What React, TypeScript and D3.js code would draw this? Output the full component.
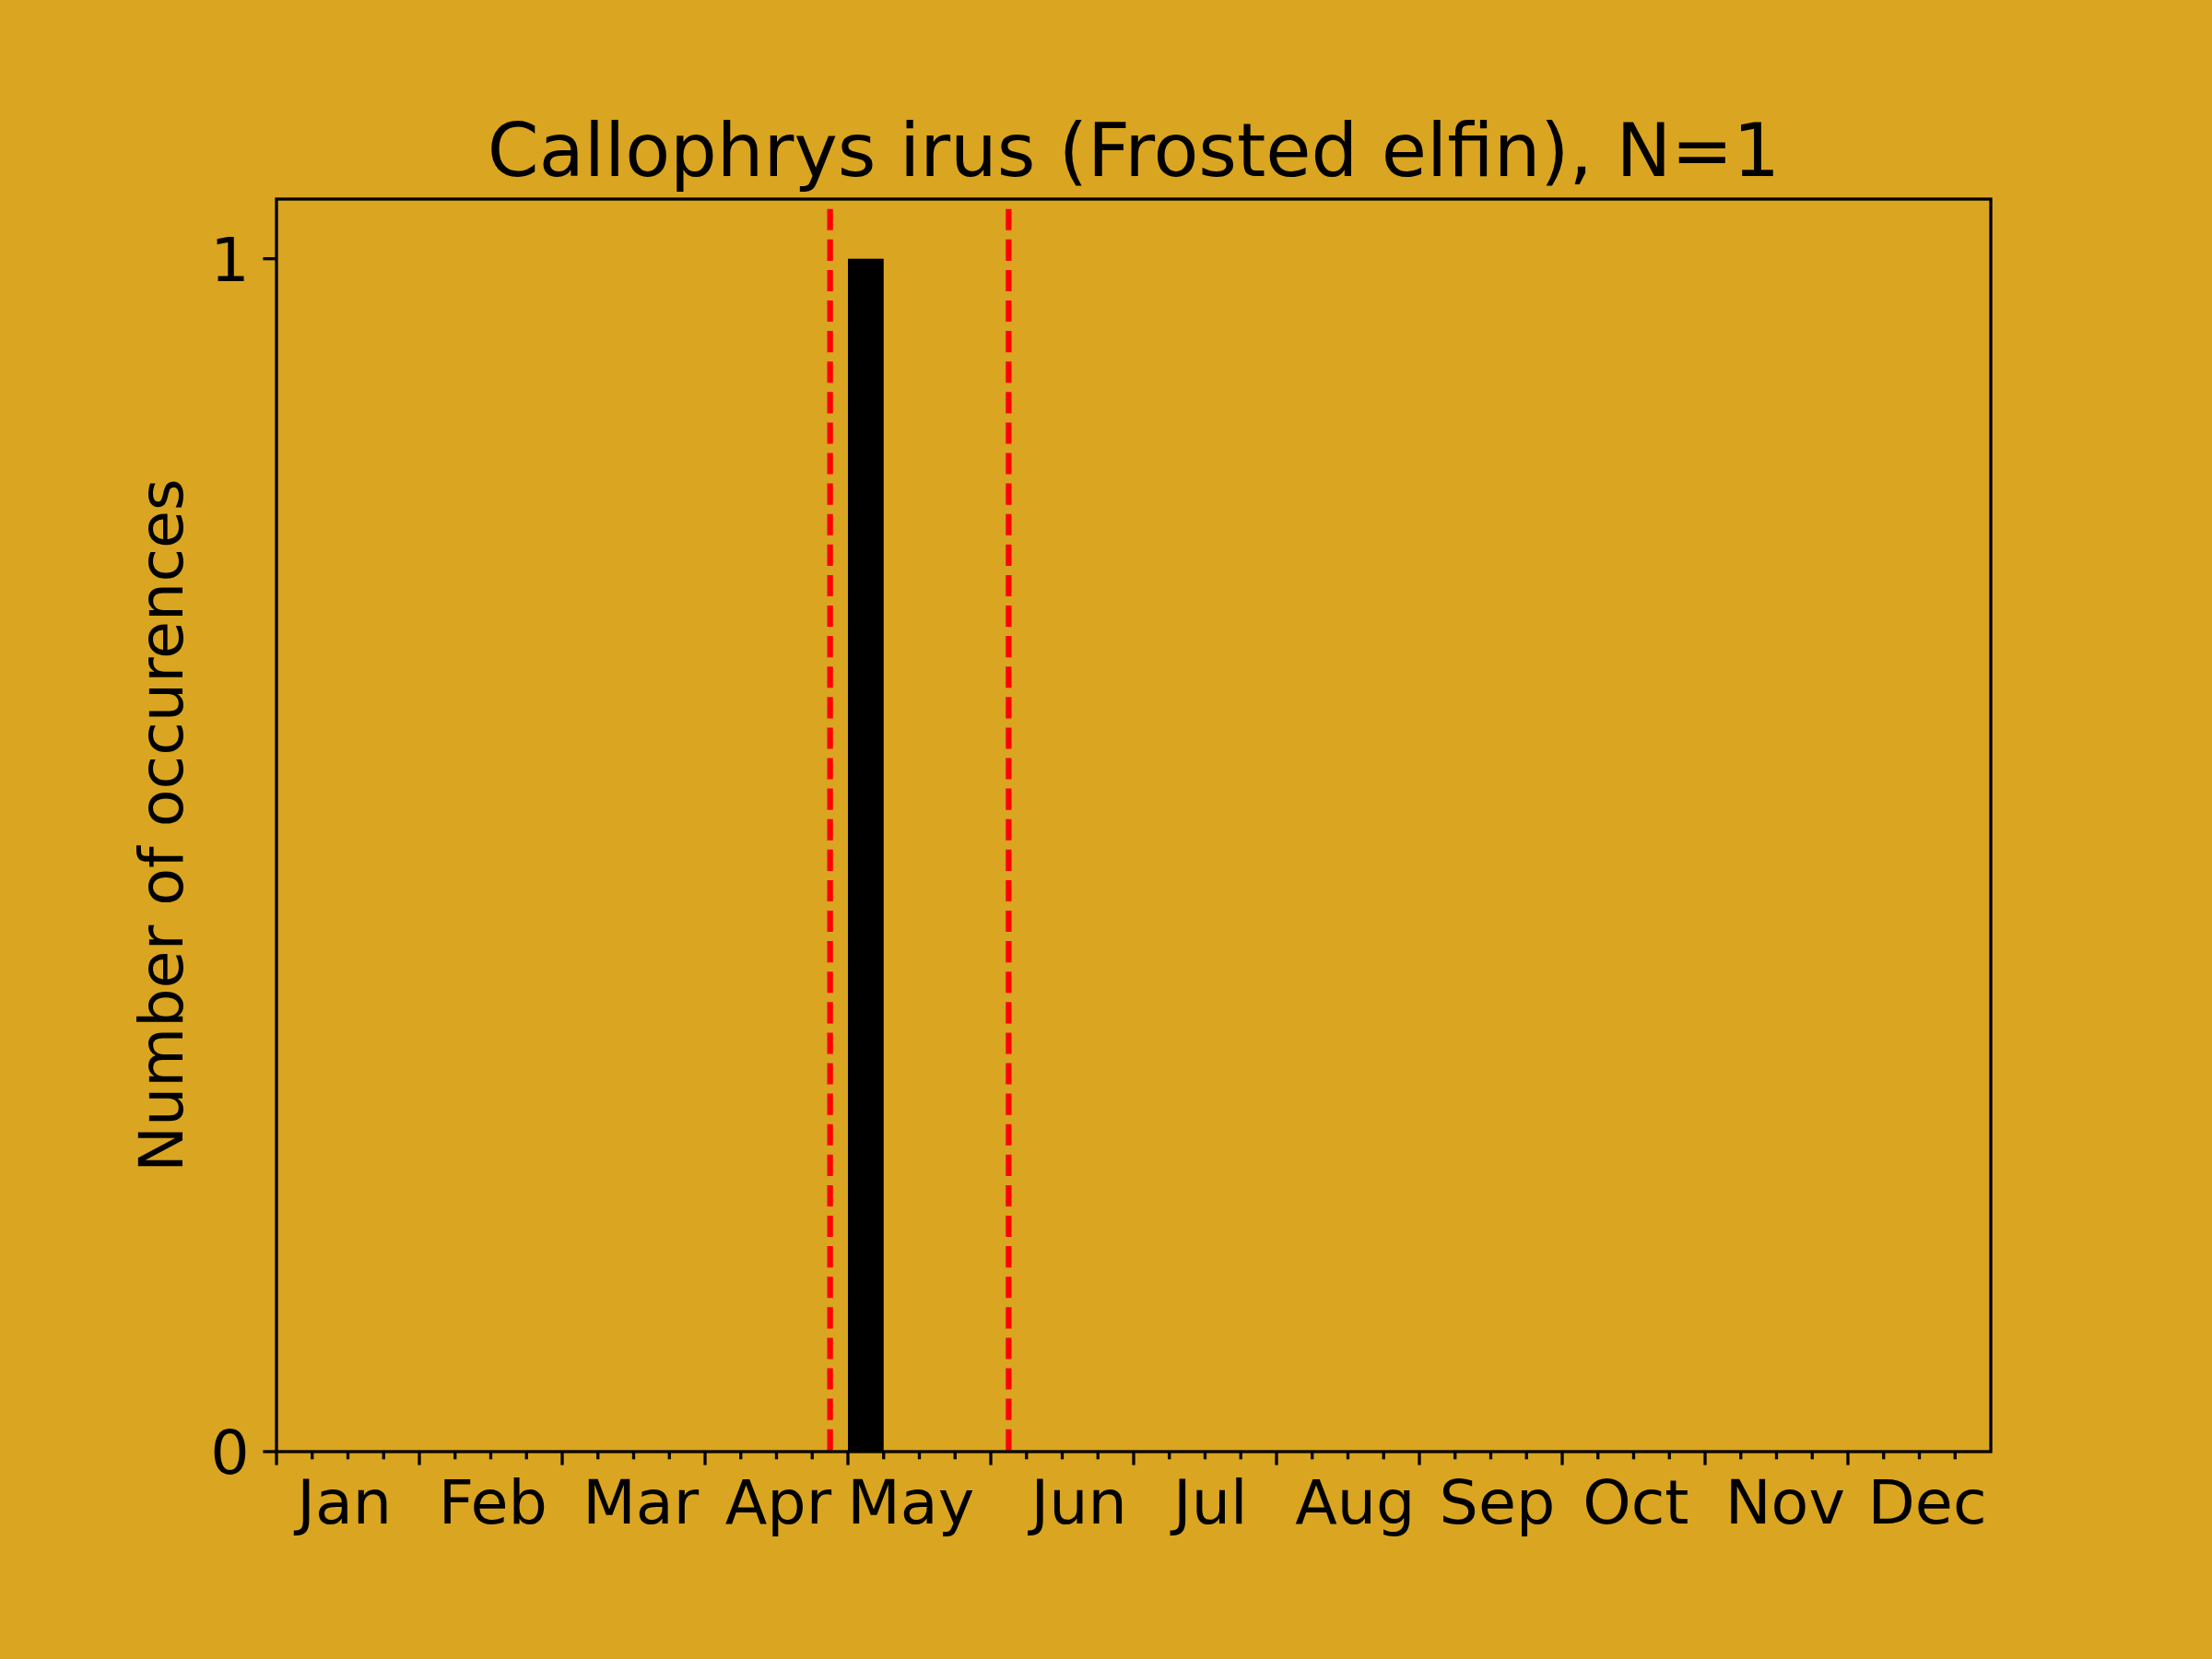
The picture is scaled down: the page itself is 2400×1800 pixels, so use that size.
import React from "react";
import * as d3 from "d3";

// ---- data ----
const TITLE = "Callophrys irus (Frosted elfin), N=1";
const Y_LABEL = "Number of occurences";
// 48 quarter-month bins, Jan..Dec
const binCounts: number[] = [
  0, 0, 0, 0, 0, 0, 0, 0, 0, 0, 0, 0, 0, 0, 0, 0,
  1, 0, 0, 0, 0, 0, 0, 0, 0, 0, 0, 0, 0, 0, 0, 0,
  0, 0, 0, 0, 0, 0, 0, 0, 0, 0, 0, 0, 0, 0, 0, 0,
];
const monthLabels = ["Jan", "Feb", "Mar", "Apr", "May", "Jun", "Jul", "Aug", "Sep", "Oct", "Nov", "Dec"];
// label anchor positions in bin units
const monthLabelPos = [1.9, 6.06, 10.2, 14.05, 17.76, 22.47, 26.15, 30.2, 34.18, 38.06, 42.24, 46.22];
const flightPeriod = [15.5, 20.5]; // red dashed lines, bin units
const yTicks = [0, 1];

const W = 2400;
const H = 1800;
const BG = "#DAA520";
const FONT = "DejaVu Sans, sans-serif";

export default function App() {
  const left = 300, right = 2160, top = 216, bottom = 1575;
  const x = d3.scaleLinear().domain([0, 48]).range([left, right]);
  const y = d3.scaleLinear().domain([0, 1.05]).range([bottom, top]);
  const tickW = 3.3;
  const majorLen = 14.6;
  const minorLen = 8.3;

  const ticks = d3.range(0, 48);

  return (
    <svg width={W} height={H} style={{ position: "absolute", left: 0, top: 0, display: "block" }}
      xmlns="http://www.w3.org/2000/svg">
      <rect x={0} y={0} width={W} height={H} fill={BG} />
      <rect x={left} y={top} width={right - left} height={bottom - top} fill={BG} />

      {/* bars */}
      {binCounts.map((c, i) =>
        c > 0 ? (
          <rect key={i} x={x(i)} y={y(c)} width={x(i + 1) - x(i)} height={y(0) - y(c)} fill="#000" />
        ) : null
      )}

      {/* flight-period lines */}
      {flightPeriod.map((v, i) => (
        <line key={i} x1={x(v)} x2={x(v)} y1={top} y2={bottom} stroke="#ff0000" strokeWidth={6.25}
          strokeDasharray="23.1 10" strokeDashoffset={22.4} />
      ))}

      {/* spines */}
      <rect x={left} y={top} width={right - left} height={bottom - top} fill="none" stroke="#000" strokeWidth={3.3} />

      {/* x ticks */}
      {ticks.map((t) => (
        <line key={t} x1={x(t)} x2={x(t)} y1={bottom} y2={bottom + (t % 4 === 0 ? majorLen : minorLen)}
          stroke="#000" strokeWidth={tickW} />
      ))}
      {monthLabels.map((m, i) => (
        <text key={m} x={x(monthLabelPos[i])} y={1653} textAnchor="middle" fontFamily={FONT} fontSize={66.7} fill="#000">
          {m}
        </text>
      ))}

      {/* y ticks */}
      {yTicks.map((t) => (
        <g key={t}>
          <line x1={left - majorLen} x2={left} y1={y(t)} y2={y(t)} stroke="#000" strokeWidth={tickW} />
          <text x={left - majorLen - 14.6} y={y(t) + 24} textAnchor="end" fontFamily={FONT} fontSize={66.7} fill="#000">
            {t}
          </text>
        </g>
      ))}

      {/* y label */}
      <text transform={`translate(198, ${(top + bottom) / 2}) rotate(-90)`} textAnchor="middle"
        fontFamily={FONT} fontSize={66.7} fill="#000">
        {Y_LABEL}
      </text>

      {/* title */}
      <text x={(left + right) / 2} y={191} textAnchor="middle" fontFamily={FONT} fontSize={80} fill="#000">
        {TITLE}
      </text>
    </svg>
  );
}
